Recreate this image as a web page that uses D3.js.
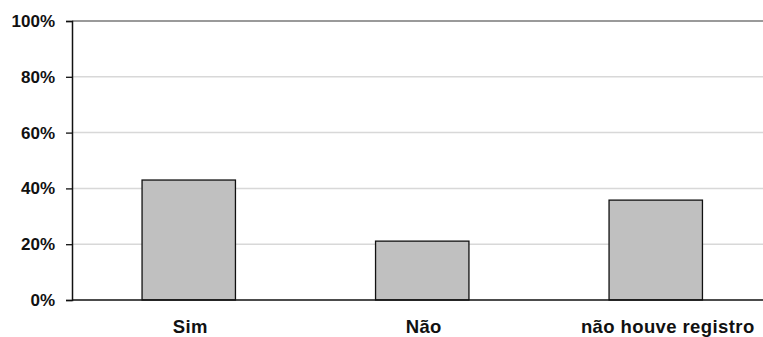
<!DOCTYPE html>
<html>
<head>
<meta charset="utf-8">
<script src="https://cdn.jsdelivr.net/npm/d3@7"></script>
<style>
  html, body { margin: 0; padding: 0; background: #fff; }
  svg { display: block; }
  text { font-family: Arial, "Liberation Sans", sans-serif; font-weight: bold; fill: #111; }
</style>
</head>
<body>
<svg id="chart" width="763" height="337"></svg>
<script>
// Share of responses per category (percent)
const categories = ["Sim", "Não", "não houve registro"];
const values = [43.0, 21.1, 35.8];
const tickValues = [0, 20, 40, 60, 80, 100];

const svg = d3.select("#chart");
const plot = { left: 72, right: 772.5, top: 21, bottom: 300 };

const x = d3.scaleBand()
  .domain(categories)
  .range([plot.left, plot.right])
  .paddingInner(0.6)
  .paddingOuter(0.3);

const y = d3.scaleLinear()
  .domain([0, 100])
  .range([plot.bottom, plot.top]);

// Horizontal gridlines
svg.append("g")
  .selectAll("line")
  .data(tickValues.filter(d => d > 0))
  .join("line")
  .attr("x1", plot.left)
  .attr("x2", 763)
  .attr("y1", d => y(d))
  .attr("y2", d => y(d))
  .attr("stroke", d => d === 100 ? "#9a9a9a" : "#d8d8d8")
  .attr("stroke-width", d => d === 100 ? 2 : 1.5);

// Bars
svg.append("g")
  .selectAll("rect")
  .data(values)
  .join("rect")
  .attr("x", (d, i) => x(categories[i]))
  .attr("y", d => y(d))
  .attr("width", x.bandwidth())
  .attr("height", d => y(0) - y(d))
  .attr("fill", "#c0c0c0")
  .attr("stroke", "#111")
  .attr("stroke-width", 1.3);

// Y axis
const yAxis = d3.axisLeft(y)
  .tickValues(tickValues)
  .tickFormat(d => d + "%")
  .tickSize(6)
  .tickPadding(11);

const gy = svg.append("g")
  .attr("transform", `translate(${plot.left},0)`)
  .call(yAxis);
gy.select(".domain").attr("stroke", "#111").attr("stroke-width", 1.5);
gy.selectAll(".tick line").attr("stroke", "#111").attr("stroke-width", 1.3);
gy.selectAll(".tick text")
  .attr("fill", "#111")
  .style("font-size", "17px")
  .style("font-family", "Arial, 'Liberation Sans', sans-serif")
  .style("font-weight", "bold");

// Baseline
svg.append("line")
  .attr("x1", plot.left)
  .attr("x2", 763)
  .attr("y1", y(0))
  .attr("y2", y(0))
  .attr("stroke", "#111")
  .attr("stroke-width", 1.5);

// Category labels (the long last label sits a little right of its bar)
svg.append("g")
  .selectAll("text")
  .data(categories)
  .join("text")
  .attr("x", d => x(d) + x.bandwidth() / 2)
  .attr("dx", (d, i) => i === categories.length - 1 ? 12 : 1.5)
  .attr("y", 333)
  .attr("text-anchor", "middle")
  .style("font-size", "18.5px")
  .style("letter-spacing", "0.4px")
  .text(d => d);
</script>
</body>
</html>
